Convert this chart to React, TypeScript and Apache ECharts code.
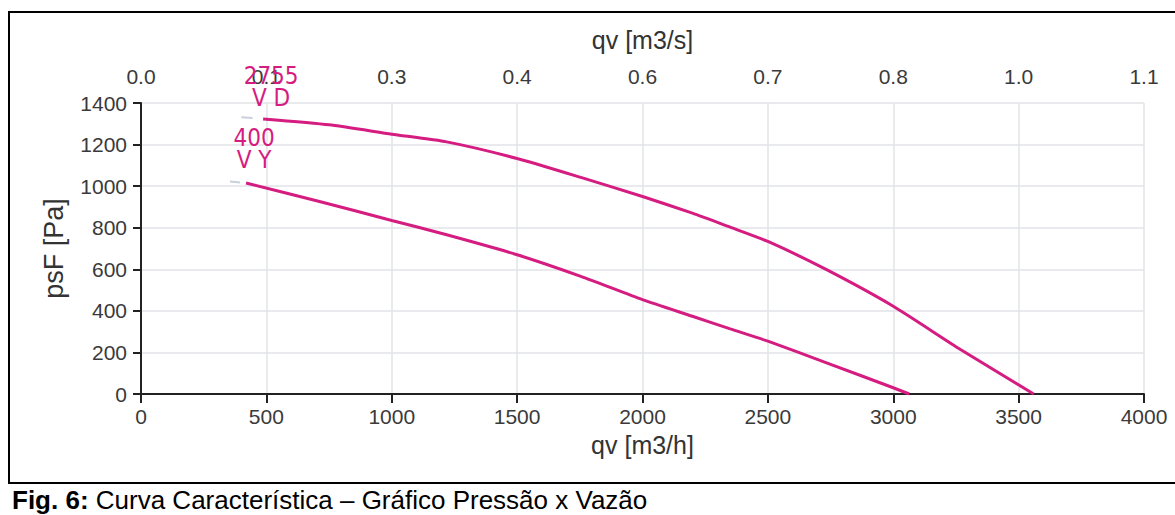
import React, { useEffect, useRef } from "react";
import * as echarts from "echarts";

const xTicks = [0, 500, 1000, 1500, 2000, 2500, 3000, 3500, 4000];
const yTicks = [0, 200, 400, 600, 800, 1000, 1200, 1400];

const vdQ = [487, 750, 1000, 1219, 1500, 1754, 2000, 2199, 2342, 2500, 2734, 3000, 3268, 3560];
const vdP = [1323, 1295, 1250, 1213, 1133, 1042, 950, 870, 806, 734, 598, 422, 214, 0];

const vyQ = [419, 700, 1000, 1219, 1500, 1754, 2000, 2199, 2350, 2500, 2734, 3000, 3064];
const vyP = [1015, 930, 835, 766, 670, 566, 454, 374, 313, 254, 150, 30, 0];

const vdGhostQ = [400, 445];
const vdGhostP = [1332, 1328];
const vyGhostQ = [355, 395];
const vyGhostP = [1022, 1018];

const vdLabel = ["2755", "V D"];
const vyLabel = ["400", "V Y"];

const caption = "Curva Característica – Gráfico Pressão x Vazão";
const captionBold = "Fig. 6:";

const zip = (a: number[], b: number[]) => a.map((v, i) => [v, b[i]]);

const PINK = "#d51c80";
const NARROW = "'Liberation Sans Narrow', 'DejaVu Sans Condensed', 'Roboto Condensed', 'Liberation Sans', sans-serif";
const SANS = "'Liberation Sans', Arial, sans-serif";

export default function App() {
  const ref = useRef<HTMLDivElement>(null);
  useEffect(() => {
    document.body.style.margin = "0";
    const chart = echarts.init(ref.current!, null, { renderer: "svg" });
    const labelStyle = {
      color: PINK,
      fontFamily: NARROW,
      fontSize: 24,
      lineHeight: 22,
    };
    const plain = (v: number) => String(v);
    chart.setOption({
      animation: false,
      backgroundColor: "#fff",
      grid: { left: 141, top: 103, width: 1003, height: 291, outerBoundsMode: "none", containLabel: false },
      xAxis: [
        {
          type: "value",
          position: "bottom",
          min: xTicks[0],
          max: xTicks[xTicks.length - 1],
          interval: 500,
          name: "qv [m3/h]",
          nameLocation: "middle",
          nameGap: 38,
          nameTextStyle: { color: "#333", fontSize: 25, fontFamily: SANS },
          axisLine: { show: true, lineStyle: { color: "#222", width: 2 } },
          axisTick: { show: true, length: 9, lineStyle: { color: "#222", width: 2 } },
          axisLabel: { color: "#3a3a3a", fontSize: 21, fontFamily: SANS, margin: 12, formatter: plain },
          splitLine: { show: true, lineStyle: { color: "#e0e3e9", width: 1.5 } },
        },
        {
          type: "value",
          position: "top",
          min: xTicks[0],
          max: xTicks[xTicks.length - 1],
          interval: 500,
          name: "qv [m3/s]",
          nameLocation: "middle",
          nameGap: 51,
          nameTextStyle: { color: "#333", fontSize: 25, fontFamily: SANS },
          axisLine: { show: false },
          axisTick: { show: false },
          axisLabel: {
            color: "#3a3a3a",
            fontSize: 21,
            fontFamily: SANS,
            margin: 16,
            formatter: (v: number) => (v / 3600).toFixed(1),
          },
          splitLine: { show: false },
        },
      ],
      yAxis: {
        type: "value",
        min: yTicks[0],
        max: yTicks[yTicks.length - 1],
        interval: 200,
        name: "psF [Pa]",
        nameLocation: "middle",
        nameGap: 74,
        nameTextStyle: { color: "#333", fontSize: 27, fontFamily: SANS },
        axisLine: { show: true, lineStyle: { color: "#222", width: 2 } },
        axisTick: { show: true, length: 8, lineStyle: { color: "#222", width: 2 } },
        axisLabel: { color: "#3a3a3a", fontSize: 21, fontFamily: SANS, margin: 14, formatter: plain },
        splitLine: { show: true, lineStyle: { color: "#e0e3e9", width: 1.5 } },
      },
      series: [
        {
          type: "line",
          data: zip(vdGhostQ, vdGhostP),
          showSymbol: false,
          lineStyle: { color: "#c9d1dc", width: 2 },
          silent: true,
        },
        {
          type: "line",
          data: zip(vyGhostQ, vyGhostP),
          showSymbol: false,
          lineStyle: { color: "#c9d1dc", width: 2 },
          silent: true,
        },
        {
          type: "line",
          name: "V D",
          data: zip(vdQ, vdP),
          showSymbol: false,
          smooth: 0.2,
          lineStyle: { color: PINK, width: 3 },
          markPoint: {
            symbol: "circle",
            symbolSize: 1,
            itemStyle: { color: "rgba(0,0,0,0)" },
            label: {
              show: true,
              position: "top",
              distance: 10,
              offset: [8, 0],
              formatter: vdLabel.join("\n"),
              ...labelStyle,
            },
            data: [{ coord: [vdQ[0], vdP[0]] }],
          },
        },
        {
          type: "line",
          name: "V Y",
          data: zip(vyQ, vyP),
          showSymbol: false,
          smooth: 0.2,
          lineStyle: { color: PINK, width: 3 },
          markPoint: {
            symbol: "circle",
            symbolSize: 1,
            itemStyle: { color: "rgba(0,0,0,0)" },
            label: {
              show: true,
              position: "top",
              distance: 12,
              offset: [8, 0],
              formatter: vyLabel.join("\n"),
              ...labelStyle,
            },
            data: [{ coord: [vyQ[0], vyP[0]] }],
          },
        },
      ],
      graphic: [
        {
          type: "rect",
          silent: true,
          shape: { x: 9, y: 12, width: 1180, height: 471 },
          style: { fill: "none", stroke: "#000", lineWidth: 2 },
        },
        {
          type: "text",
          silent: true,
          x: 12,
          y: 500,
          style: {
            text: "{b|" + captionBold + "} " + caption,
            fontSize: 26,
            fontFamily: SANS,
            fill: "#000",
            verticalAlign: "middle",
            rich: {
              b: { fontSize: 26, fontFamily: SANS, fontWeight: "bold", fill: "#000" },
            },
          },
        },
      ],
    });
    return () => chart.dispose();
  }, []);
  return <div ref={ref} style={{ width: 1175, height: 515 }} />;
}
